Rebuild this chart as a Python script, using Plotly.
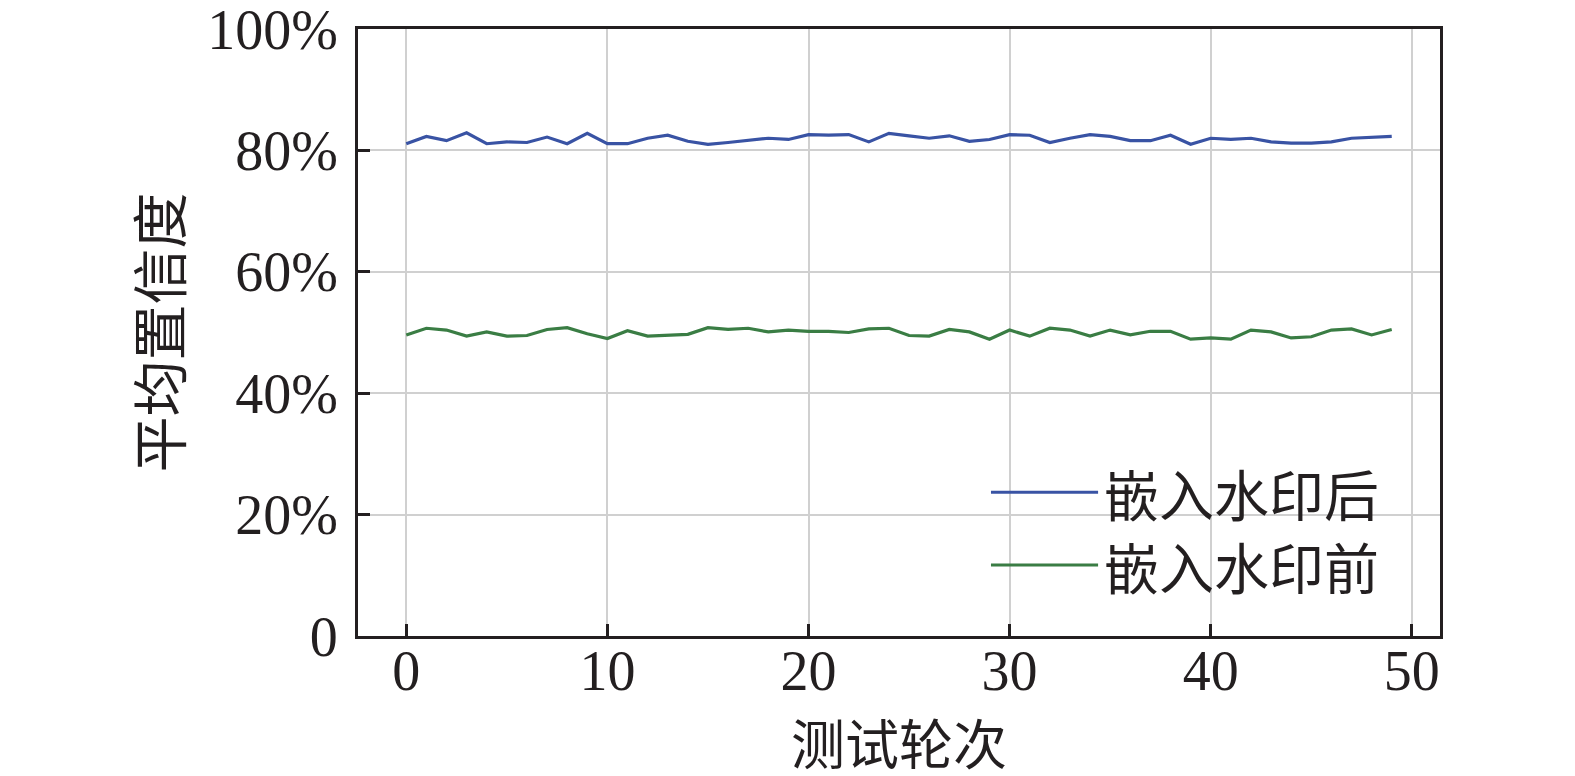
import plotly.graph_objects as go

# test rounds 0..49
rounds = list(range(50))

# average confidence (%) after embedding watermark
after_wm = [81.1, 82.3, 81.6, 82.9, 81.1, 81.4, 81.3, 82.2, 81.1, 82.8,
            81.1, 81.1, 82.0, 82.5, 81.5, 81.0, 81.3, 81.7, 82.0, 81.8,
            82.6, 82.5, 82.6, 81.4, 82.8, 82.4, 82.0, 82.4, 81.5, 81.8,
            82.6, 82.5, 81.3, 82.0, 82.6, 82.3, 81.6, 81.6, 82.5, 81.0,
            82.0, 81.8, 82.0, 81.4, 81.2, 81.2, 81.4, 82.0, 82.1, 82.3]

# average confidence (%) before embedding watermark
before_wm = [49.6, 50.7, 50.4, 49.4, 50.1, 49.4, 49.5, 50.5, 50.8, 49.8,
             49.0, 50.3, 49.4, 49.6, 49.7, 50.8, 50.5, 50.7, 50.1, 50.4,
             50.2, 50.2, 50.0, 50.6, 50.7, 49.5, 49.4, 50.5, 50.1, 48.9,
             50.4, 49.4, 50.7, 50.4, 49.4, 50.4, 49.6, 50.2, 50.2, 48.9,
             49.1, 48.9, 50.4, 50.1, 49.1, 49.3, 50.4, 50.6, 49.6, 50.5]

series_names = ['嵌入水印后', '嵌入水印前']
series_colors = ['#3953A4', '#3A7D44']

x_ticks = [0, 10, 20, 30, 40, 50]
y_ticks = [0, 20, 40, 60, 80, 100]
y_tick_text = ['0', '20%', '40%', '60%', '80%', '100%']

SERIF = 'Liberation Serif, Times New Roman, serif'
CJK = 'Noto Sans CJK SC'

fig = go.Figure()
for name, vals, col in zip(series_names, [after_wm, before_wm], series_colors):
    fig.add_trace(go.Scatter(x=rounds, y=vals, mode='lines', name=name,
                             line=dict(color=col, width=3.2), showlegend=False))

# hand-made legend (long line samples like the original)
legend_rows = [0.237, 0.117]
for name, col, yy in zip(series_names, series_colors, legend_rows):
    fig.add_shape(type='line', xref='paper', yref='paper',
                  x0=0.585, x1=0.684, y0=yy, y1=yy,
                  line=dict(color=col, width=3))
    fig.add_annotation(text=name, xref='paper', yref='paper', x=0.688, y=yy,
                       xanchor='left', yanchor='middle', showarrow=False,
                       font=dict(family=CJK, size=55, color='#231F20'))

fig.update_layout(
    template='none',
    width=1575, height=776,
    margin=dict(l=350, r=143, t=21, b=148),
    paper_bgcolor='white', plot_bgcolor='white',
    font=dict(family=SERIF, color='#231F20'),
)
fig.update_xaxes(
    range=[-2.4, 51.4], tickvals=x_ticks, automargin=False,
    showgrid=True, gridcolor='#D0D0D0', gridwidth=2,
    showline=True, linecolor='#231F20', linewidth=3, mirror=True,
    ticks='inside', ticklen=12, tickwidth=3, tickcolor='#231F20',
    tickfont=dict(family=SERIF, size=56), ticklabelstandoff=-16,
    ticklabeloverflow='allow',
    title=dict(text='测试轮次', font=dict(family=CJK, size=54), standoff=0),
    zeroline=False,
)
fig.update_yaxes(
    range=[0, 100], tickvals=y_ticks, ticktext=y_tick_text, automargin=False,
    showgrid=True, gridcolor='#D0D0D0', gridwidth=2,
    showline=True, linecolor='#231F20', linewidth=3, mirror=True,
    ticks='inside', ticklen=12, tickwidth=3, tickcolor='#231F20',
    tickfont=dict(family=SERIF, size=56), ticklabelstandoff=6,
    ticklabeloverflow='allow',
    title=dict(text='平均置信度', font=dict(family=CJK, size=56), standoff=8),
    zeroline=False,
)

fig.write_html("out.html")
